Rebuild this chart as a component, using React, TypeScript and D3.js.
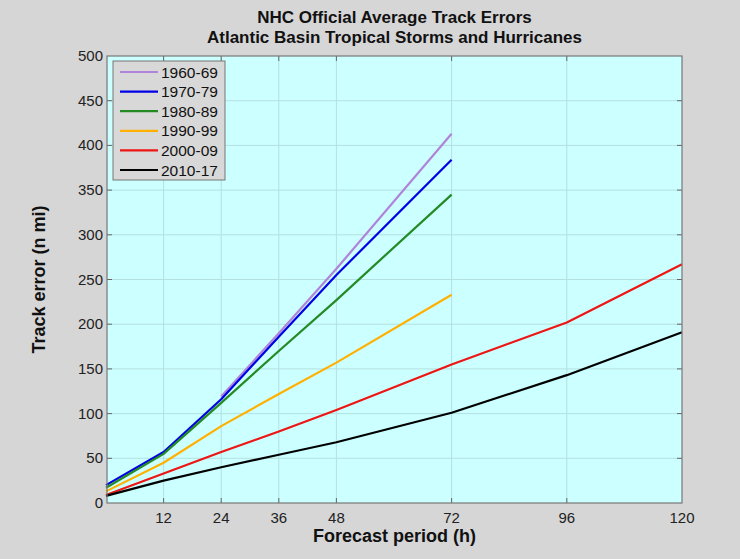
import React from 'react'
import * as d3 from 'd3'

const W = 740
const H = 559
const margin = { left: 107, right: 58, top: 56, bottom: 56 }

const hours = [0, 12, 24, 36, 48, 72, 96, 120]
const xTicks = [12, 24, 36, 48, 72, 96, 120]
const yTicks = [0, 50, 100, 150, 200, 250, 300, 350, 400, 450, 500]

const periods = ['1960-69', '1970-79', '1980-89', '1990-99', '2000-09', '2010-17']
const colors = ['#b084d8', '#0000e6', '#248b24', '#ffb000', '#ee1515', '#000000']

// errors per forecast hour (null = no forecast at that lead time)
const err6069 = [null, null, 119, 190, 262, 413, null, null]
const err7079 = [20, 57, 116, 186, 255, 384, null, null]
const err8089 = [17, 55, 112, 170, 227, 345, null, null]
const err9099 = [13, 45, 86, 122, 157, 233, null, null]
const err0009 = [9, 33, 57, 80, 104, 155, 202, 267]
const err1017 = [8, 25, 40, 54, 68, 101, 143, 191]

const series = [err6069, err7079, err8089, err9099, err0009, err1017]

const font = 'Arial, "Liberation Sans", sans-serif'

export default function App() {
  const x = d3.scaleLinear().domain([0, 120]).range([margin.left - 1, W - margin.right])
  const y = d3.scaleLinear().domain([0, 500]).range([H - margin.bottom, margin.top])
  const x0 = margin.left
  const x1 = W - margin.right
  const y0 = H - margin.bottom
  const y1 = margin.top

  const line = d3
    .line<number | null>()
    .defined((d) => d != null)
    .x((_, i) => x(hours[i]))
    .y((d) => y(d as number))

  const cx = (x0 + x1) / 2

  return (
    <div style={{ position: 'fixed', left: 0, top: 0 }}>
      <svg width={W} height={H} style={{ display: 'block', fontFamily: font }}>
        <rect width={W} height={H} fill="#d6d6d6" />
        <rect x={x0} y={y1} width={x1 - x0} height={y0 - y1} fill="#ccffff" />

        {/* grid */}
        {xTicks.slice(0, -1).map((t) => (
          <line key={'gx' + t} x1={x(t)} x2={x(t)} y1={y1} y2={y0} stroke="#b4e0e0" strokeWidth={1} />
        ))}
        {yTicks.slice(1, -1).map((t) => (
          <line key={'gy' + t} x1={x0} x2={x1} y1={y(t)} y2={y(t)} stroke="#b4e0e0" strokeWidth={1} />
        ))}

        {/* ticks */}
        {xTicks.slice(0, -1).map((t) => (
          <g key={'tx' + t} stroke="#666">
            <line x1={x(t)} x2={x(t)} y1={y0} y2={y0 - 5} />
            <line x1={x(t)} x2={x(t)} y1={y1} y2={y1 + 5} />
          </g>
        ))}
        {yTicks.slice(1, -1).map((t) => (
          <g key={'ty' + t} stroke="#666">
            <line x1={x0} x2={x0 + 5} y1={y(t)} y2={y(t)} />
            <line x1={x1} x2={x1 - 5} y1={y(t)} y2={y(t)} />
          </g>
        ))}

        {/* series */}
        {series.map((s, i) => (
          <path key={periods[i]} d={line(s) || ''} fill="none" stroke={colors[i]} strokeWidth={2.2} strokeLinejoin="round" />
        ))}

        <rect x={x0} y={y1} width={x1 - x0} height={y0 - y1} fill="none" stroke="#777" strokeWidth={1.2} />

        {/* tick labels */}
        {xTicks.map((t) => (
          <text key={'lx' + t} x={x(t)} y={y0 + 20} textAnchor="middle" fontSize={15} fill="#222">
            {t}
          </text>
        ))}
        {yTicks.map((t) => (
          <text key={'ly' + t} x={x0 - 4} y={y(t) + 5} textAnchor="end" fontSize={15} fill="#222">
            {t}
          </text>
        ))}

        {/* legend */}
        <g>
          <rect x={113} y={61} width={112} height={119} fill="#d8d8d8" stroke="#777" strokeWidth={1} />
          {periods.map((p, i) => (
            <g key={'lg' + p} transform={`translate(0, ${72 + i * 19.6})`}>
              <line x1={120} x2={158} y1={0} y2={0} stroke={colors[i]} strokeWidth={2.2} />
              <text x={161} y={5.5} fontSize={15.5} fill="#111">
                {p}
              </text>
            </g>
          ))}
        </g>

        {/* titles */}
        <text x={cx} y={23} textAnchor="middle" fontSize={17} fontWeight="bold" fill="#111">
          NHC Official Average Track Errors
        </text>
        <text x={cx} y={42.5} textAnchor="middle" fontSize={17} fontWeight="bold" fill="#111">
          Atlantic Basin Tropical Storms and Hurricanes
        </text>
        <text x={cx} y={542} textAnchor="middle" fontSize={18} fontWeight="bold" fill="#111">
          Forecast period (h)
        </text>
        <text
          transform={`translate(45, ${(y0 + y1) / 2}) rotate(-90)`}
          textAnchor="middle"
          fontSize={18}
          fontWeight="bold"
          fill="#111"
        >
          Track error (n mi)
        </text>
      </svg>
    </div>
  )
}
